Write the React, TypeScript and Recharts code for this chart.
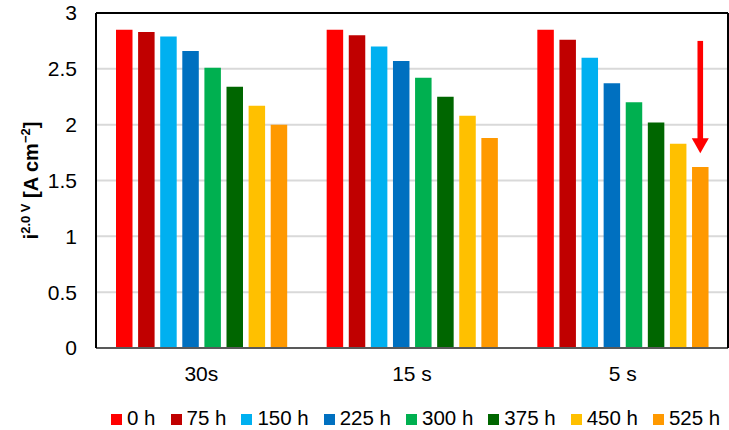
import React from 'react';
import {
  BarChart,
  Bar,
  XAxis,
  YAxis,
  CartesianGrid,
  Legend,
  ReferenceLine,
  LabelList,
} from 'recharts';

// ---- data ----
const categories = ['30s', '15 s', '5 s'];
const seriesNames = ['0 h', '75 h', '150 h', '225 h', '300 h', '375 h', '450 h', '525 h'];
const seriesKeys = ['h0', 'h75', 'h150', 'h225', 'h300', 'h375', 'h450', 'h525'];
const seriesColors = ['#FF0000', '#C00000', '#00B0F0', '#0070C0', '#00B050', '#006600', '#FFC000', '#FF9900'];

const h0 = [2.85, 2.85, 2.85];
const h75 = [2.83, 2.8, 2.76];
const h150 = [2.79, 2.7, 2.6];
const h225 = [2.66, 2.57, 2.37];
const h300 = [2.51, 2.42, 2.2];
const h375 = [2.34, 2.25, 2.02];
const h450 = [2.17, 2.08, 1.83];
const h525 = [2.0, 1.88, 1.62];
const seriesValues = [h0, h75, h150, h225, h300, h375, h450, h525];

const yTicks = [0, 0.5, 1, 1.5, 2, 2.5, 3];

// arrow annotation (data units) over the last series in the last category
const arrowSeries = 'h525';
const arrowCategoryIndex = 2;
const arrowFrom = 2.75;
const arrowTo = 1.745;

const data = categories.map((c, i) => {
  const row: Record<string, string | number> = { cat: c };
  seriesKeys.forEach((k, j) => {
    row[k] = seriesValues[j][i];
  });
  return row;
});

const FONT = '"Liberation Sans", Arial, Helvetica, sans-serif';

const ArrowLabel = (props: any) => {
  const { x, y, width, height, value, index } = props;
  if (index !== arrowCategoryIndex || !value) return null;
  const bottom = y + height;
  const ppu = height / value;
  const top = bottom - arrowFrom * ppu;
  const tip = bottom - arrowTo * ppu;
  const cx = x + width / 2;
  const headH = 15;
  const headW = 8.5;
  return (
    <g>
      <rect x={cx - 2.8} y={top} width={5.6} height={tip - headH - top + 1} fill="#FF0000" />
      <polygon
        points={`${cx - headW},${tip - headH} ${cx + headW},${tip - headH} ${cx},${tip}`}
        fill="#FF0000"
      />
    </g>
  );
};

const YTitle = (props: any) => {
  const vb = props.viewBox || { x: 0, y: 13, width: 96, height: 335 };
  const cy = vb.y + vb.height / 2;
  const cx = 38;
  return (
    <text
      x={cx}
      y={cy}
      transform={`rotate(-90, ${cx}, ${cy})`}
      textAnchor="middle"
      fontFamily={FONT}
      fontWeight="bold"
      fontSize={20}
      fill="#000"
    >
      <tspan>i</tspan>
      <tspan fontSize={13} dy={-8}>2.0 V</tspan>
      <tspan dy={8}> [A cm</tspan>
      <tspan fontSize={13} dy={-8}>−2</tspan>
      <tspan dy={8}>]</tspan>
    </text>
  );
};

const LegendContent = () => (
  <div
    style={{
      display: 'flex',
      justifyContent: 'flex-start',
      alignItems: 'center',
      fontFamily: FONT,
      fontSize: 20.5,
      color: '#000',
      height: 22,
      whiteSpace: 'nowrap',
      paddingLeft: 111,
    }}
  >
    {seriesNames.map((n, i) => (
      <div
        key={n}
        style={{ display: 'flex', alignItems: 'center', marginLeft: i === 0 ? 0 : 15 }}
      >
        <div style={{ width: 11, height: 11, background: seriesColors[i], marginRight: 5, marginTop: 2 }} />
        <span>{n}</span>
      </div>
    ))}
  </div>
);

export default function App() {
  return (
    <div style={{ position: 'absolute', left: 0, top: 0, width: 729, height: 430, background: '#fff' }}>
      <BarChart
        width={729}
        height={430}
        data={data}
        margin={{ top: 13, right: 0, left: 0, bottom: 42 }}
        barSize={16.5}
        barGap={5.6}
      >
        <CartesianGrid vertical={false} stroke="#D9D9D9" strokeWidth={2} />
        <XAxis
          dataKey="cat"
          height={40}
          tickLine={false}
          tickSize={0}
          tickMargin={18}
          axisLine={{ stroke: '#595959', strokeWidth: 2 }}
          tick={{ fontFamily: FONT, fontSize: 21, fill: '#000' }}
        />
        <YAxis
          width={96}
          domain={[0, 3]}
          ticks={yTicks}
          interval={0}
          tickLine={false}
          tickSize={0}
          tickMargin={19}
          axisLine={{ stroke: '#000', strokeWidth: 2 }}
          tick={{ fontFamily: FONT, fontSize: 21, fill: '#000' }}
          label={{ content: (p: any) => <YTitle {...p} /> }}
        />
        <YAxis
          yAxisId="frame"
          orientation="right"
          width={1}
          domain={[0, 3]}
          tick={false}
          tickLine={false}
          axisLine={{ stroke: '#000', strokeWidth: 2 }}
        />
        <ReferenceLine y={3} stroke="#000" strokeWidth={2} />
        {seriesKeys.map((k, i) => (
          <Bar key={k} dataKey={k} name={seriesNames[i]} fill={seriesColors[i]} isAnimationActive={false}>
            {k === arrowSeries ? <LabelList dataKey={k} content={ArrowLabel} /> : null}
          </Bar>
        ))}
        <Legend
          layout="horizontal"
          verticalAlign="middle"
          align="center"
          wrapperStyle={{ top: 407, left: 0, width: 729 }}
          content={() => <LegendContent />}
        />
      </BarChart>
    </div>
  );
}
